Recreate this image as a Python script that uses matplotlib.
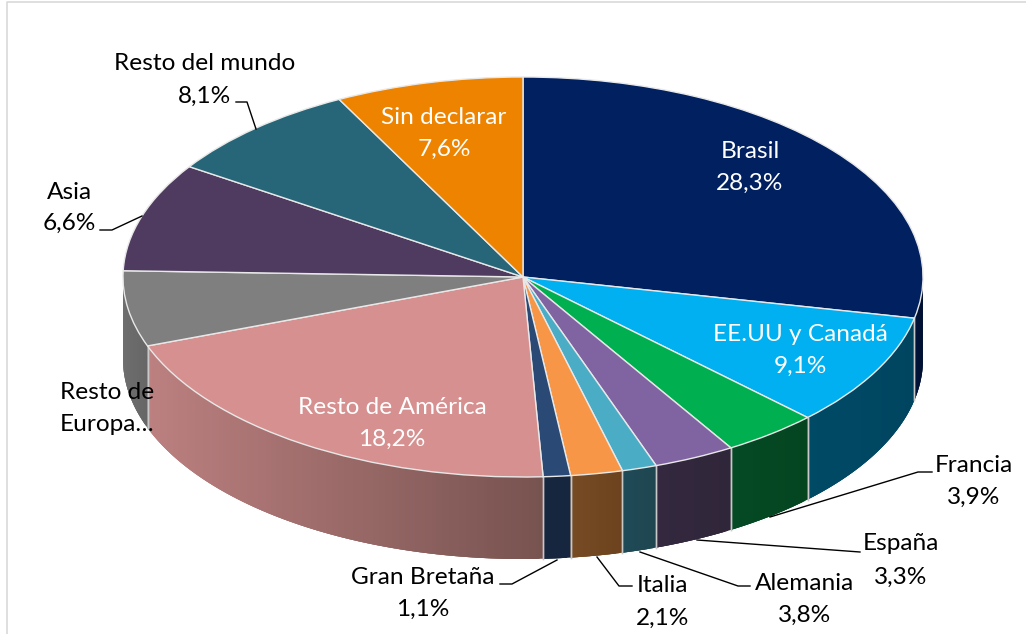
import numpy as np
import matplotlib
matplotlib.use("Agg")
import matplotlib.pyplot as plt
from matplotlib.collections import PolyCollection
from matplotlib.colors import to_rgb

plt.rcParams['font.family'] = ['Lato', 'DejaVu Sans']

categories = ["Brasil", "EE.UU y Canadá", "Francia", "España", "Alemania", "Italia",
              "Gran Bretaña", "Resto de América", "Resto de Europa", "Asia",
              "Resto del mundo", "Sin declarar"]
shares = [28.3, 9.1, 3.9, 3.3, 1.4, 2.1, 1.1, 20.2, 6.1, 8.8, 8.1, 7.6]
printed = ["28,3%", "9,1%", "3,9%", "3,3%", "3,8%", "2,1%", "1,1%", "18,2%", "", "6,6%", "8,1%", "7,6%"]
top_colors = ["#002060", "#00B0F0", "#00B050", "#8064A2", "#4BACC6", "#F79646",
              "#2A4A75", "#D69090", "#7F7F7F", "#4F3A60", "#276678", "#EE8300"]
wall_left = ["#00143C", "#004A66", "#044A24", "#33283F", "#1F4A58", "#774B24",
             "#16263E", "#BC8080", "#6E6E6E", "#33283F", "#1F4A58", "#774B24"]
wall_right = ["#000F30", "#004560", "#044520", "#302639", "#1F4650", "#6C431E",
              "#16263E", "#775350", "#666666", "#33283F", "#1F4A58", "#774B24"]

W, H = 1026, 634
cx, cy, rx, ry, depth = 523, 277, 400, 200, 82

fig = plt.figure(figsize=(W / 100, H / 100), dpi=100, facecolor="white")
ax = fig.add_axes([0, 0, 1, 1])

def X(p):
    return (p - cx) / rx

def Y(p):
    return (cy - p) / ry

# top face: unit pie on an axes scaled so the circle becomes the ellipse
ax.pie(shares, colors=top_colors, startangle=90, counterclock=False, radius=1,
       wedgeprops=dict(edgecolor="#E8E8E8", linewidth=1.0, zorder=3))
ax.set_aspect("auto")
ax.set_xlim(X(0), X(W))
ax.set_ylim(Y(H), Y(0))
ax.axis("off")

# side wall: visible where the angle from 12 o'clock is 90..270 degrees
edges = np.concatenate([[0], np.cumsum(shares)]) / sum(shares) * 360
dy = depth / ry
for i in range(len(shares)):
    a, b = max(edges[i], 90), min(edges[i + 1], 270)
    if b <= a:
        continue
    t = np.radians(np.linspace(a, b, int((b - a) * 2) + 2))
    xs, ys = np.sin(t), np.cos(t)
    c0, c1 = np.array(to_rgb(wall_left[i])), np.array(to_rgb(wall_right[i]))
    polys, cols = [], []
    x0, x1 = xs.min(), xs.max()
    # strips overlap their successors so no seams show between them
    for j in range(len(t) - 1):
        k = min(j + 3, len(t) - 1)
        upper = list(zip(xs[j:k + 1], ys[j:k + 1]))
        lower = list(zip(xs[j:k + 1], ys[j:k + 1] - dy))[::-1]
        polys.append(upper + lower)
        f = ((xs[j] + xs[j + 1]) / 2 - x0) / (x1 - x0)
        cols.append(c0 + (c1 - c0) * f)
    ax.add_collection(PolyCollection(polys[::-1] if xs[0] > xs[-1] and False else polys,
                                     facecolors=cols, edgecolors="none",
                                     linewidths=0, zorder=1))
    for e in (a, b):
        if e in (90, 270):
            continue
        s, c = np.sin(np.radians(e)), np.cos(np.radians(e))
        ax.plot([s, s], [c, c - dy], color="#C8C8C8", lw=1.0, zorder=2)

# frame
ax.plot([X(7), X(7), X(W)], [Y(H), Y(2), Y(2)], color="#D9D9D9", lw=1.2, zorder=0)

# leader lines (pixel positions)
leaders = [[(236, 102), (247, 102), (256, 129)],
           [(100, 230), (112, 230), (142, 216)],
           [(932, 472), (918, 472), (770, 517)],
           [(860, 552), (697, 540)],
           [(750, 586), (738, 586), (640, 552)],
           [(632, 586), (619, 586), (597, 557)],
           [(500, 584), (512, 584), (557, 560)]]
for pts in leaders:
    ax.plot([X(p[0]) for p in pts], [Y(p[1]) for p in pts], color="black", lw=1.0, zorder=4)

# labels: (category index, centre x, y of first line, y of second line, colour)
FS = 17.6
placed = [(0, 750, 151, 183, "white"), (1, 800, 334, 366, "white"),
          (7, 392, 407, 439, "white"), (11, 444, 117, 149, "white"),
          (10, 205, 64, 96, "black"), (9, 69, 192, 223, "black"),
          (2, 974, 465, 497, "black"), (3, 901, 544, 577, "black"),
          (4, 805, 584, 615, "black"), (5, 663, 586, 618, "black"),
          (6, 423, 577, 609, "black")]
for i, x, y1, y2, col in placed:
    ax.text(X(x), Y(y1), categories[i], color=col, fontsize=FS, ha="center", va="center", zorder=5)
    ax.text(X(x), Y(y2), printed[i], color=col, fontsize=FS, ha="center", va="center", zorder=5)
ax.text(X(107), Y(392), "Resto de", color="black", fontsize=FS, ha="center", va="center", zorder=5)
ax.text(X(107), Y(424), "Europa…", color="black", fontsize=FS, ha="center", va="center", zorder=5)

fig.savefig("out.png", dpi=100)
